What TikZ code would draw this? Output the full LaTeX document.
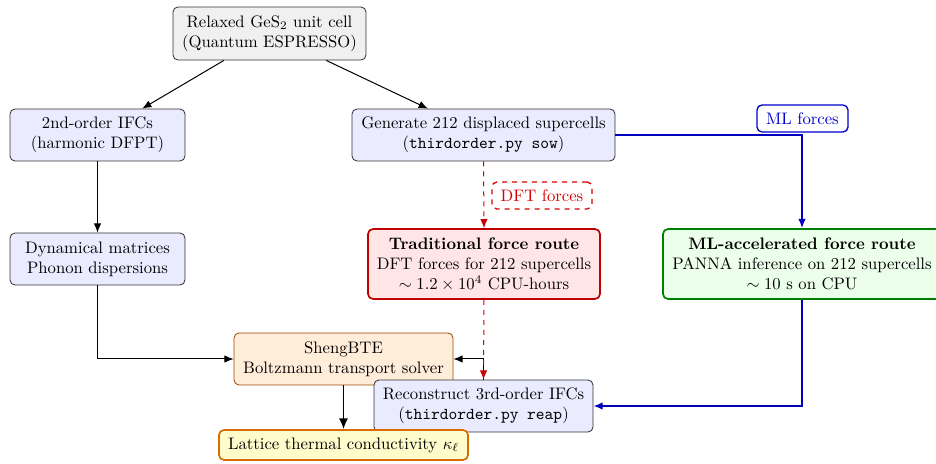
\documentclass[tikz,border=0pt]{standalone}
\usetikzlibrary{arrows.meta}
\begin{document}
\begin{tikzpicture}[x=0.6pt,y=-0.6pt,
  box/.style={draw=black!80,rounded corners=3pt,align=center,inner sep=2pt,line width=0.5pt},
  stepbox/.style={box,fill=blue!8},
  arr/.style={-{Latex[length=5.5pt,width=4.5pt]},semithick},
  bluearr/.style={-{Latex[length=5.5pt,width=4.5pt]},line width=1pt,draw=blue!75!black},
  redarr/.style={-{Latex[length=5.5pt,width=4.5pt]},semithick,dashed,draw=red!80!black},
  lbl/.style={rounded corners=3pt,fill=white,inner sep=2pt,line width=0.8pt}]
\useasboundingbox (0,0) rectangle (936,464);
\clip (0,0) rectangle (936,464);

% nodes
\node[box,fill=black!6,minimum width=115.8pt,minimum height=31.8pt] (top) at (269.5,33.5)
  {Relaxed GeS$_2$ unit cell\\(Quantum ESPRESSO)};
\node[stepbox,minimum width=105pt,minimum height=31.2pt] (ifc2) at (97.5,135)
  {2nd-order IFCs\\(harmonic DFPT)};
\node[stepbox,minimum width=157.8pt,minimum height=31.2pt] (gen) at (483.5,135)
  {Generate 212 displaced supercells\\(\texttt{thirdorder.py sow})};
\node[stepbox,minimum width=105pt,minimum height=31.2pt] (dyn) at (97.5,259)
  {Dynamical matrices\\Phonon dispersions};
\node[box,fill=red!10,draw=red!75!black,line width=1pt,minimum width=139.2pt,minimum height=42pt] (trad) at (484,264)
  {\textbf{Traditional force route}\\DFT forces for 212 supercells\\$\sim 1.2\times10^{4}$ CPU-hours};
\node[box,fill=green!8,draw=green!50!black,line width=1pt,minimum width=166.8pt,minimum height=42pt] (ml) at (802,264)
  {\textbf{ML-accelerated force route}\\PANNA inference on 212 supercells\\$\sim 10$ s on CPU};
\node[box,fill=orange!15,draw=orange!60!black,minimum width=131.4pt,minimum height=31.2pt] (sheng) at (343.5,359)
  {ShengBTE\\Boltzmann transport solver};
\node[stepbox,minimum width=131.4pt,minimum height=31.2pt] (recon) at (483.5,406)
  {Reconstruct 3rd-order IFCs\\(\texttt{thirdorder.py reap})};
\node[box,fill=yellow!20,draw=orange!85!black,line width=1pt,minimum width=149.4pt,minimum height=18pt] (kappa) at (343.5,445)
  {Lattice thermal conductivity $\kappa_\ell$};

% connectors
\draw[arr] (top) -- (ifc2);
\draw[arr] (top) -- (gen);
\draw[arr] (ifc2) -- (dyn);
\draw[arr] (dyn.south) |- (sheng.west);
\draw[bluearr] (gen.east) -| (ml.north);
\draw[bluearr] (ml.south) |- (recon.east);
\draw[arr] (recon.north) |- (sheng.east);
\draw[redarr] (gen.south) -- (trad.north);
\draw[redarr] (trad.south) -- (recon.north);
\draw[-{Latex[length=6.5pt,width=5.5pt]},line width=1pt] (sheng.south) -- (kappa.north);

% edge labels
\node[lbl,draw=blue!80!black,text=blue!80!black,minimum width=54.6pt,minimum height=16.2pt] (mlf) at (802.5,118.5) {ML forces};
\node[lbl,draw=red!85!black,text=red!85!black,dashed,minimum width=60pt,minimum height=16.2pt] (dftf) at (542,195.5) {DFT forces};
\end{tikzpicture}
\end{document}
